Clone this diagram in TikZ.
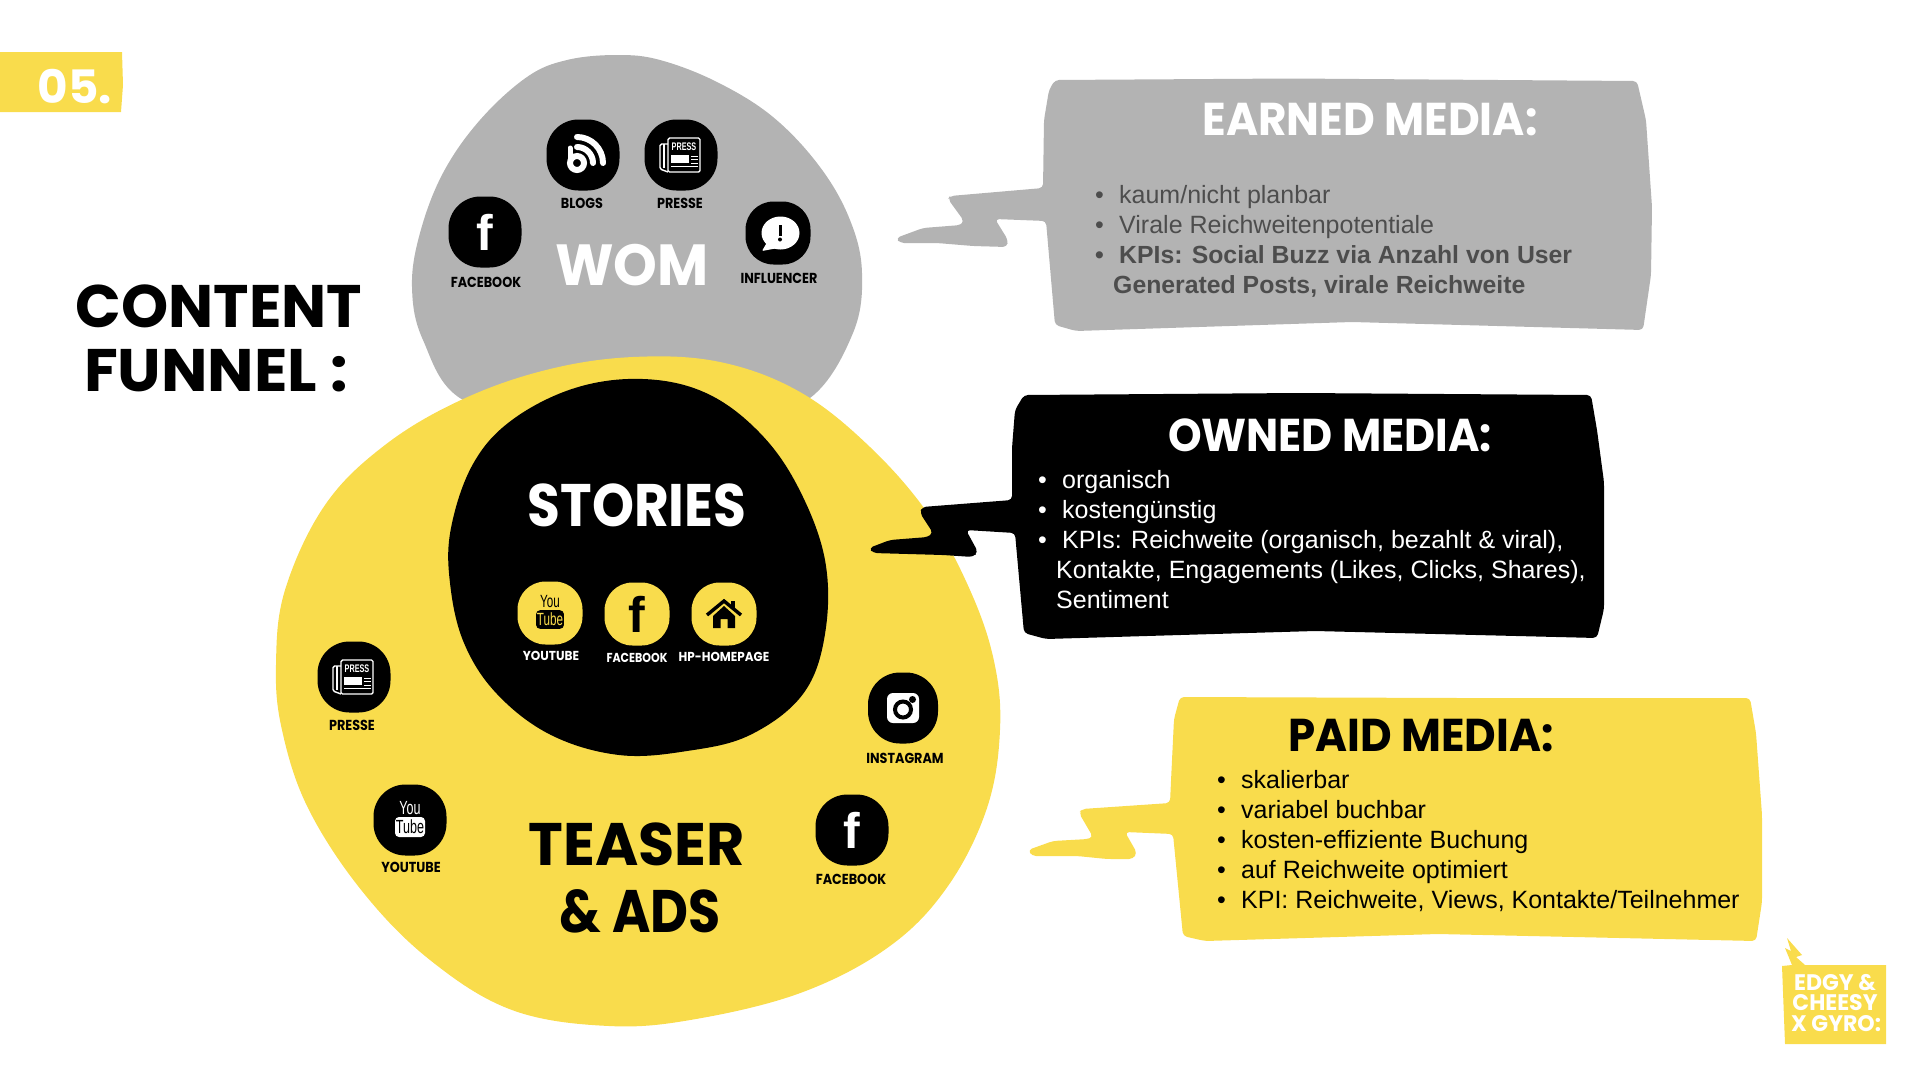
\documentclass[tikz,border=0pt]{standalone}
\usepackage{fontspec}
\usepackage{tikz}
\setmainfont{Liberation Sans}
\newfontfamily\handfont{Poppins}
\newfontfamily\narrowfont[FakeStretch=0.66]{Liberation Sans}
\newcommand{\handsize}[2][.88]{\handfont\bfseries\addfontfeature{FakeStretch=#1}\fontsize{#2}{#2}\selectfont}
\newcommand{\bul}{\makebox[24pt][l]{\textbullet}}
\definecolor{funnelyellow}{HTML}{F9DC4C}
\definecolor{funnelgray}{HTML}{B3B3B3}
\definecolor{bodygray}{HTML}{4D4D4D}
\colorlet{tubecol}{black}
\tikzset{
	blackblob/.style={fill=black,rectangle,rounded corners=32pt,inner sep=0pt,minimum width=73pt,minimum height=71pt},
	smallblob/.style={blackblob,rounded corners=28pt,minimum width=65pt,minimum height=63pt},
	yellowblob/.style={smallblob,fill=funnelyellow},
	iconlabel/.style={font={\handsize{14.5}},inner sep=0pt},
	storylabel/.style={text=white,inner sep=0pt},
	headline/.style={inner sep=0pt},
	bigline/.style={inner sep=0pt},
	bodyline/.style={font=\fontsize{25}{30}\selectfont,inner sep=0pt,anchor=base west},
	boldline/.style={bodyline,font=\bfseries\fontsize{24.8}{30}\selectfont},
	logoline/.style={font={\handsize[.98]{22.5}},text=white,inner sep=0pt},
	fbicon/.pic={
		\node[text=#1,font=\bfseries\fontsize{50}{50}\selectfont,inner sep=0pt] at (0,0) {f};
	},
	yticon/.pic={
		\fill[#1,rounded corners=4pt] (-15,-3) rectangle (15,17);
		\node[transform shape,text=#1,font=\narrowfont\fontsize{19}{19}\selectfont,inner sep=0pt] at (0,-12) {You};
		\node[transform shape,text=tubecol,font=\narrowfont\fontsize{19}{19}\selectfont,inner sep=0pt] at (0,7) {Tube};
	},
	pressicon/.pic={
		\draw[white,line width=1.4pt,rounded corners=1.5pt] (-13,-17) rectangle (19,17);
		\draw[white,line width=1.4pt,rounded corners=1.5pt] (-13,-11) -- (-21,-11) -- (-21,14) -- (-13,17);
		\draw[white,line width=1.4pt] (-17,-11) -- (-17,13);
		\node[text=white,font=\narrowfont\bfseries\fontsize{11}{11}\selectfont,inner sep=0pt] at (3,-8) {PRESS};
		\fill[white] (-10,0) rectangle (8,8);
		\draw[white,line width=1pt] (10,1) -- (16.5,1) (10,4.5) -- (16.5,4.5) (10,8) -- (16.5,8) (-10,11.5) -- (16.5,11.5);
	},
	blogicon/.pic={
		\draw[white,line width=6pt] (-6,8) circle[radius=7];
		\draw[white,line width=5pt,line cap=round] (-13,8) -- (-13,-7);
		\draw[white,line width=6pt,line cap=round] (-6,-8) arc[start angle=-90,end angle=0,radius=16];
		\draw[white,line width=6pt,line cap=round] (-6,-18) arc[start angle=-90,end angle=0,radius=26];
	},
	bubbleicon/.pic={
		\fill[white] (2.5,0) ellipse[x radius=19,y radius=16.5];
		\fill[white,rounded corners=1pt] (-9,6) -- (-16,18) -- (0,15) -- cycle;
		\draw[black,line width=3pt] (2,-8) -- (2,3);
		\fill[black] (2,6.5) circle[radius=2];
	},
	instaicon/.pic={
		\fill[white,rounded corners=6pt] (-16,-15) rectangle (16,15);
		\draw[black,line width=4pt] (0,1.5) circle[radius=8];
		\fill[black] (9.5,-8.5) circle[radius=3.5];
	},
	homeicon/.pic={
		\draw[black,line width=3.4pt] (-17,1) -- (0,-13) -- (17,1);
		\fill[black] (-11,2) -- (0,-8) -- (11,2) -- (11,14) -- (3.5,14) -- (3.5,5) -- (-3.5,5) -- (-3.5,14) -- (-11,14) -- cycle;
		\fill[black] (7,-13) rectangle (11,-5);
	}
}
\begin{document}
\begin{tikzpicture}[x=1pt,y=-1pt]
	\useasboundingbox (0,0) rectangle (1920,1080);
	\fill[funnelyellow] (0,52) -- (122,52) -- (123,85) -- (121,112) -- (0,112) -- cycle;
	\node[font={\handsize[1.02]{46}},text=white,inner sep=0pt] (badge) at (75,87) {05.};
	\node[bigline,font={\handsize[1]{60}}] (content) at (219,306) {CONTENT};
	\node[bigline,font={\handsize[1.03]{60}}] (funnel) at (216,371) {FUNNEL :};

	\fill[funnelgray] plot[smooth cycle,tension=.62] coordinates {(617,55) (660,60) (717,82) (773,117) (820,167) (850,220) (862,273) (853,333) (810,398) (733,423) (567,423) (463,400) (423,340) (412,287) (420,233) (443,173) (480,120) (527,77) (567,60)};
	\fill[funnelyellow] plot[smooth cycle,tension=.62] coordinates {(633,357) (720,362) (800,392) (870,447) (929,515) (970,590) (994,661) (1000,730) (987,808) (948,886) (890,946) (803,992) (696,1019) (609,1026) (512,1010) (430,960) (362,891) (308,808) (282,730) (276,665) (285,590) (325,505) (385,445) (461,400) (546,370)};
	\fill[black] plot[smooth cycle,tension=.62] coordinates {(643,379) (706,393) (759,432) (798,487) (825,560) (825,634) (803,694) (750,735) (687,751) (619,755) (551,735) (497,694) (464,643) (450,583) (451,528) (473,464) (512,420) (575,388)};

	\node[blackblob] (blogs) at (583,155) {};
	\pic at (blogs) {blogicon};
	\node[iconlabel] (blogstext) at (582,203) {BLOGS};
	\node[blackblob] (press) at (681,155) {};
	\pic at (press) {pressicon};
	\node[iconlabel] (presstext) at (680,203) {PRESSE};
	\node[blackblob] (fb) at (485,232) {};
	\pic at (fb) {fbicon=white};
	\node[iconlabel] (fbtext) at (486,282) {FACEBOOK};
	\node[smallblob] (infl) at (778,233) {};
	\pic at (infl) {bubbleicon};
	\node[iconlabel] (infltext) at (779,278) {INFLUENCER};
	\node[font={\handsize[.96]{58}},text=white,inner sep=0pt] (wom) at (632,265) {WOM};

	\node[bigline,text=white,font={\handsize[.89]{60}}] (stories) at (637,505) {STORIES};
	\colorlet{tubecol}{funnelyellow}
	\node[yellowblob] (ytstory) at (550,613) {};
	\pic[scale=.93] at (ytstory) {yticon=black};
	\node[storylabel,font={\handsize[.93]{13}}] (ytstorytext) at (551,656) {YOUTUBE};
	\node[yellowblob] (fbstory) at (637,614) {};
	\pic at (fbstory) {fbicon=black};
	\node[storylabel,font={\handsize[.85]{13}}] (fbstorytext) at (637,658) {FACEBOOK};
	\node[yellowblob] (home) at (724,614) {};
	\pic at (home) {homeicon};
	\node[storylabel,font={\handsize[.92]{13}}] (hometext) at (724,657) {HP-HOMEPAGE};

	\colorlet{tubecol}{black}
	\node[blackblob] (pressad) at (354,677) {};
	\pic at (pressad) {pressicon};
	\node[iconlabel] (pressadtext) at (352,725) {PRESSE};
	\node[blackblob,minimum width=70pt] (insta) at (903,708) {};
	\pic at (insta) {instaicon};
	\node[iconlabel] (instatext) at (905,758) {INSTAGRAM};
	\node[blackblob] (ytad) at (410,820) {};
	\pic at (ytad) {yticon=white};
	\node[iconlabel] (ytadtext) at (411,867) {YOUTUBE};
	\node[blackblob] (fbad) at (852,830) {};
	\pic at (fbad) {fbicon=white};
	\node[iconlabel] (fbadtext) at (851,879) {FACEBOOK};
	\node[bigline,font={\handsize[.98]{60}}] (teaser) at (637,844) {TEASER};
	\node[bigline,font={\handsize[.87]{60}}] (ads) at (640,911) {\& ADS};

	\fill[funnelgray,rounded corners=4pt] (1055,80) -- (1291,78.5) -- (1637,81) -- (1646,120) -- (1652,207) -- (1651,275) -- (1643,330) -- (1352,322) -- (1076,331) -- (1055,325) -- (1046,221) -- (995,219) -- (1008,240) -- (1007,247) -- (973,246) -- (937,243) -- (900,243) -- (896,238) -- (923,228) -- (961,225) -- (964,221) -- (948,199) -- (950,196) -- (1043,188) -- (1044,120) -- (1049,90) -- cycle;
	\node[headline,text=white,font={\handsize[.95]{46}}] (earned) at (1370,120) {EARNED MEDIA:};
	\node[bodyline,text=bodygray] (earned1) at (1095,203) {\bul kaum/nicht planbar};
	\node[bodyline,text=bodygray] (earned2) at (1095,233.5) {\bul Virale Reichweitenpotentiale};
	\node[boldline,text=bodygray] (earned3) at (1095,263.5) {\bul KPIs: Social Buzz via Anzahl von User};
	\node[boldline,text=bodygray] (earned4) at (1113,293.5) {Generated Posts, virale Reichweite};

	\fill[black,rounded corners=4pt] (1024,395) -- (1300,393) -- (1591,395) -- (1597,430) -- (1604,482) -- (1604,609) -- (1597,638) -- (1315,631) -- (1046,639) -- (1024,633) -- (1015,533) -- (966,530) -- (978,552) -- (973,557) -- (943,555) -- (873,553) -- (869,548) -- (890,540) -- (928,537) -- (933,533) -- (920,513) -- (922,507) -- (1012,500) -- (1012,448) -- (1015,410) -- cycle;
	\node[headline,text=white,font={\handsize[.93]{46}}] (owned) at (1330,435) {OWNED MEDIA:};
	\node[bodyline,text=white] (owned1) at (1038,488) {\bul organisch};
	\node[bodyline,text=white] (owned2) at (1038,518) {\bul kostengünstig};
	\node[bodyline,text=white] (owned3) at (1038,548.5) {\bul KPIs: Reichweite (organisch, bezahlt \& viral),};
	\node[bodyline,text=white] (owned4) at (1056,578.5) {Kontakte, Engagements (Likes, Clicks, Shares),};
	\node[bodyline,text=white] (owned5) at (1056,608) {Sentiment};

	\fill[funnelyellow,rounded corners=4pt] (1180,697) -- (1460,698) -- (1750,698) -- (1756,733) -- (1762,815) -- (1762,902) -- (1756,941) -- (1438,934) -- (1205,941) -- (1183,936) -- (1173,834) -- (1125,832) -- (1137,853) -- (1133,859) -- (1107,859) -- (1077,856) -- (1032,856) -- (1028,850) -- (1053,841) -- (1088,839) -- (1093,837) -- (1079,813) -- (1082,809) -- (1170,803) -- (1171,781) -- (1174,719) -- cycle;
	\node[headline,font={\handsize[.945]{46}}] (paid) at (1421,736) {PAID MEDIA:};
	\node[bodyline] (paid1) at (1217,788.5) {\bul skalierbar};
	\node[bodyline] (paid2) at (1217,818.5) {\bul variabel buchbar};
	\node[bodyline] (paid3) at (1217,848.5) {\bul kosten-effiziente Buchung};
	\node[bodyline] (paid4) at (1217,878.5) {\bul auf Reichweite optimiert};
	\node[bodyline] (paid5) at (1217,908.5) {\bul KPI: Reichweite, Views, Kontakte/Teilnehmer};

	\fill[funnelyellow] (1782,966) -- (1792,965) -- (1785,948) -- (1791,951) -- (1787,938) -- (1802,955) -- (1796,957) -- (1805,965) -- (1886,965) -- (1886,1044) -- (1785,1044) -- cycle;
	\node[logoline] (logo1) at (1835,983) {EDGY \&};
	\node[logoline] (logo2) at (1835,1003) {CHEESY};
	\node[logoline] (logo3) at (1836,1024) {X GYRO:};
\end{tikzpicture}
\end{document}
